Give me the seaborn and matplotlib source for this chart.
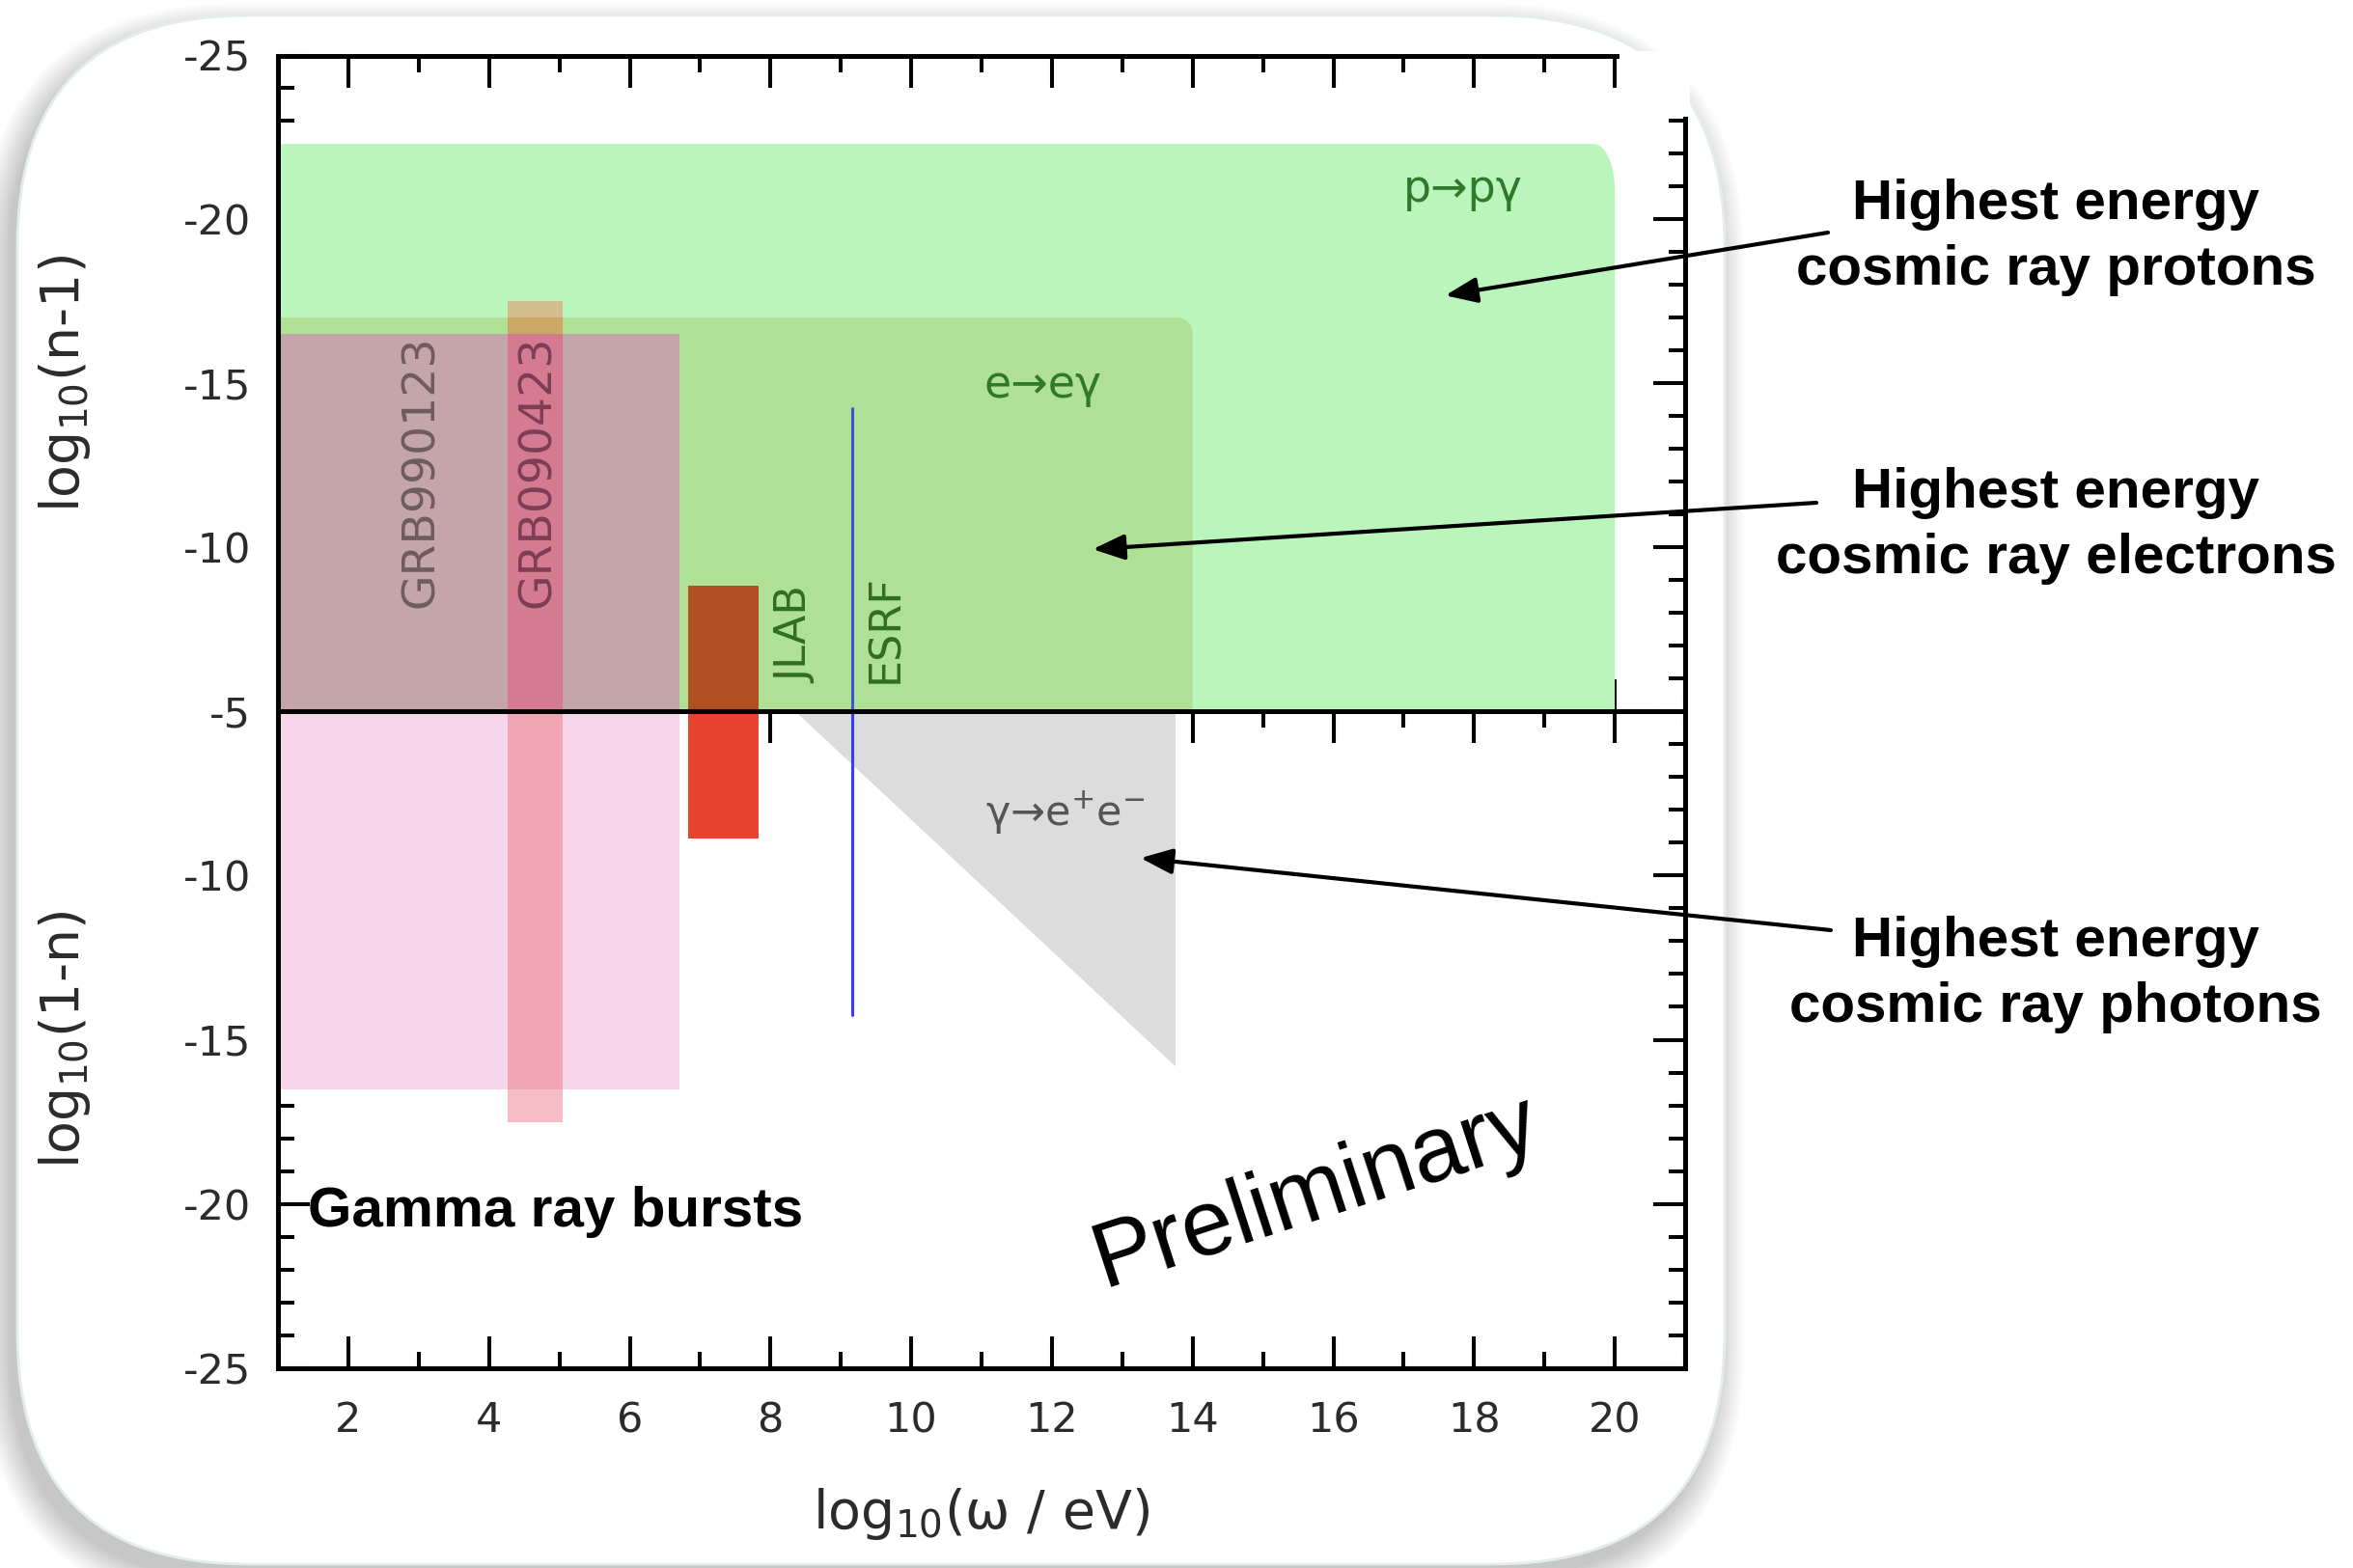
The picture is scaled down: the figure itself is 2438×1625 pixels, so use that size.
import numpy as np
import matplotlib
matplotlib.use("Agg")
import matplotlib.pyplot as plt
import seaborn as sns
from matplotlib.patches import FancyBboxPatch, Rectangle, Polygon
from matplotlib.ticker import MultipleLocator

# ---------------------------------------------------------------------------
# Constraints on the refractive index of the vacuum, log10(omega / eV) axis
# ---------------------------------------------------------------------------
# vacuum Cherenkov thresholds: omega extent and bound on log10(n-1)
process_labels = ["p→pγ", "e→eγ"]
process_omega_max = [20.0, 14.0]
process_bound = [-22.3, -17.0]
process_colors = ["#baf5bb", "#b0df96"]

# gamma ray burst time-of-flight limits (same bound on n-1 and 1-n)
grb_labels = ["GRB990123", "GRB090423"]
grb_omega_lo = [1.0, 4.26]
grb_omega_hi = [6.7, 5.04]
grb_bound = [-16.5, -17.5]

# laboratory limits
jlab_omega = [6.83, 7.83]
jlab_bound_upper = -8.83   # log10(n-1)
jlab_bound_lower = -8.87   # log10(1-n)
esrf_omega = 9.16
esrf_bound = -14.25

# photon decay gamma -> e+ e- : bound on log10(1-n)
pair_omega = [8.35, 13.75]
pair_bound = [-5.0, -15.8]

x_ticks = [2, 4, 6, 8, 10, 12, 14, 16, 18, 20]
y_ticks = [-25, -20, -15, -10, -5]

# ---------------------------------------------------------------------------
sns.set_theme(style="ticks")
plt.rcParams["font.family"] = ["DejaVu Sans"]
plt.rcParams["axes.unicode_minus"] = False
plt.rcParams["mathtext.fontset"] = "dejavusans"

W, H = 2438, 1625
fig = plt.figure(figsize=(W / 100, H / 100), dpi=100, facecolor="white")

# background canvas in pixel units: rounded card with a soft shadow
ax_bg = fig.add_axes([0, 0, 1, 1], zorder=0)
ax_bg.set_xlim(0, W)
ax_bg.set_ylim(H, 0)
ax_bg.axis("off")

bx0, by0, bx1, by1, br = 18, 16, 1787, 1621, 240
for k in range(14):
    g = 2.2 * k
    ax_bg.add_patch(FancyBboxPatch(
        (bx0 - 9 - g, by0 + 16 - g), (bx1 - bx0) + 2 * g, (by1 - by0) + 2 * g,
        boxstyle=f"round,pad=0,rounding_size={br + g}",
        facecolor="black", edgecolor="none", alpha=0.016))
ax_bg.add_patch(FancyBboxPatch(
    (bx0, by0), bx1 - bx0, by1 - by0,
    boxstyle=f"round,pad=0,rounding_size={br}",
    facecolor="white", edgecolor="#e3eded", linewidth=2.0))

# two stacked panels: log10(n-1) above, log10(1-n) below
left, width = 288 / W, (1746 - 288) / W
ax_top = fig.add_axes([left, 1 - 737 / H, width, (737 - 57.5) / H], zorder=2)
ax_bot = fig.add_axes([left, 1 - 1418 / H, width, (1418 - 737) / H], zorder=2)

label_col = "#2b2b2b"
for ax in (ax_top, ax_bot):
    ax.set_facecolor("none")
    ax.set_xlim(1, 21)
    ax.set_xticks(x_ticks)
    ax.xaxis.set_minor_locator(MultipleLocator(1))
    ax.yaxis.set_minor_locator(MultipleLocator(1))
    ax.tick_params(which="both", direction="in", top=True, right=True,
                   width=2.9, color="black", labelcolor=label_col, labelsize=31)
    ax.tick_params(which="major", length=24)
    ax.tick_params(which="minor", length=12)
    ax.tick_params(axis="y", pad=20)
    ax.tick_params(axis="x", pad=24)
    for s in ax.spines.values():
        s.set_linewidth(3.6)
        s.set_color("black")
        s.set_zorder(5)

ax_top.set_ylim(-5, -25)
ax_top.set_yticks(y_ticks)
ax_top.tick_params(axis="x", labelbottom=False)
ax_bot.set_ylim(-25, -5)
ax_bot.set_yticks(y_ticks)
ax_bot.set_yticklabels([str(v) if v != -5 else "" for v in y_ticks])

# the frame's top-right corner is open
ax_top.spines["top"].set_bounds(1, 20.02)
ax_top.spines["right"].set_bounds(-5, -23.08)
ax_top.add_patch(Rectangle((20.12, -25.12), 0.95, 1.97, facecolor="white",
                           edgecolor="none", zorder=20, clip_on=False))


def rounded_region(x0, x1, y_base, y_top, rx, ry):
    """Box from y_base up to y_top with a rounded top-right corner."""
    t = np.linspace(0, np.pi / 2, 30)
    cx, cy = x1 - rx, y_top + ry
    arc = np.column_stack([cx + rx * np.sin(t), cy - ry * np.cos(t)])
    return np.vstack([[x0, y_base], [x0, y_top], arc, [x1, y_base]])


# --- upper panel: n > 1 --------------------------------------------------
corner = [(0.30, 1.4), (0.2, 0.5)]
for xm, yb, col, (rx, ry) in zip(process_omega_max, process_bound, process_colors, corner):
    ax_top.add_patch(Polygon(rounded_region(1, xm, -5, yb, rx, ry),
                             closed=True, facecolor=col, edgecolor="none", zorder=1))

ax_top.fill_between([grb_omega_lo[0], grb_omega_hi[0]], -5, grb_bound[0],
                    color="#c3a5aa", lw=0, zorder=1.1)

# GRB090423 strip, shaded according to the region it lies over
top_strip = [(-5, grb_bound[0], "#d47a91"),
             (grb_bound[0], process_bound[1], "#cca868"),
             (process_bound[1], grb_bound[1], "#d4bd8c")]
for ya, yb, col in top_strip:
    ax_top.fill_between([grb_omega_lo[1], grb_omega_hi[1]], ya, yb,
                        color=col, lw=0, zorder=1.2)

ax_top.fill_between(jlab_omega, -5, jlab_bound_upper, color="#b04f20", lw=0, zorder=1.3)

sns.lineplot(x=[esrf_omega, esrf_omega], y=[-5, esrf_bound], ax=ax_top,
             color="#3f55d8", linewidth=2.2, estimator=None, sort=False, zorder=1.4)

green_txt = "#2f7a2a"
ax_top.text(17.84, -20.9, process_labels[0], color=green_txt, fontsize=33,
            ha="center", va="center")
ax_top.text(11.87, -14.93, process_labels[1], color=green_txt, fontsize=33,
            ha="center", va="center")
ax_top.text(3.04, -12.3, grb_labels[0], color="#6e5c61", fontsize=34,
            rotation=90, ha="center", va="center")
ax_top.text(4.70, -12.3, grb_labels[1], color="#7d3e55", fontsize=34,
            rotation=90, ha="center", va="center")
ax_top.text(8.36, -5.85, "JLAB", color="#2f6e22", fontsize=32,
            rotation=90, ha="center", va="bottom")
ax_top.text(9.63, -5.85, "ESRF", color="#2f6e22", fontsize=32,
            rotation=90, ha="center", va="bottom")

# --- lower panel: n < 1 --------------------------------------------------
ax_bot.fill_between([grb_omega_lo[0], grb_omega_hi[0]], -5, grb_bound[0],
                    color="#f7d5eb", lw=0, zorder=1.1)
bot_strip = [(-5, grb_bound[0], "#f0a6b2"),
             (grb_bound[0], grb_bound[1], "#f6bec4")]
for ya, yb, col in bot_strip:
    ax_bot.fill_between([grb_omega_lo[1], grb_omega_hi[1]], ya, yb,
                        color=col, lw=0, zorder=1.2)

ax_bot.fill_between(jlab_omega, -5, jlab_bound_lower, color="#e8432e", lw=0, zorder=1.3)
ax_bot.fill_between(pair_omega, pair_bound, -5, color="#dcdcdc", lw=0, zorder=1.0)

sns.lineplot(x=[esrf_omega, esrf_omega], y=[-5, esrf_bound], ax=ax_bot,
             color="#3a3cf5", linewidth=2.2, estimator=None, sort=False, zorder=1.4)

ax_bot.text(12.19, -8.1, r"γ→e$^{+}$e$^{-}$", color="#555555", fontsize=31,
            ha="center", va="center")
ax_bot.text(1.42, -20.25, "Gamma ray bursts", fontsize=42, fontweight="bold",
            family="Liberation Sans", color="black", ha="left", va="center")
ax_bot.text(15.75, -19.66, "Preliminary", fontsize=69, family="Liberation Sans",
            color="black", rotation=18, ha="center", va="center",
            rotation_mode="anchor")

# --- axis labels ---------------------------------------------------------
ax_top.set_ylabel(r"log$_{10}$(n-1)", fontsize=40, color=label_col)
ax_top.yaxis.set_label_coords(-0.1317, 0.5)
ax_bot.set_ylabel(r"log$_{10}$(1-n)", fontsize=40, color=label_col)
ax_bot.yaxis.set_label_coords(-0.1317, 0.5)
ax_bot.set_xlabel(r"log$_{10}$(ω / eV)", fontsize=40, color=label_col)
ax_bot.xaxis.set_label_coords(0.5, -0.179)

# --- callouts --------------------------------------------------------------
ax_fg = fig.add_axes([0, 0, 1, 1], zorder=10)
ax_fg.set_xlim(0, W)
ax_fg.set_ylim(H, 0)
ax_fg.axis("off")
ax_fg.patch.set_alpha(0)

callouts = [
    ("Highest energy\ncosmic ray protons", (2130, 246), (1894, 241), ax_top, (17.59, -17.68)),
    ("Highest energy\ncosmic ray electrons", (2130, 545), (1882, 521), ax_top, (12.58, -9.94)),
    ("Highest energy\ncosmic ray photons", (2130, 1010), (1897, 964), ax_bot, (13.26, -9.47)),
]
for text, txy, tail, ax, head in callouts:
    ax_fg.text(txy[0], txy[1], text, fontsize=42, fontweight="bold",
               family="Liberation Sans", ha="center", va="center",
               linespacing=1.32, color="black")
    ax_fg.annotate("", xy=head, xycoords=ax.transData, xytext=tail,
                   textcoords=ax_fg.transData,
                   arrowprops=dict(arrowstyle="-|>,head_length=0.5,head_width=0.2",
                                   color="black", lw=3.0, mutation_scale=40,
                                   shrinkA=0, shrinkB=0))

fig.savefig("out.png", dpi=100, facecolor="white")
